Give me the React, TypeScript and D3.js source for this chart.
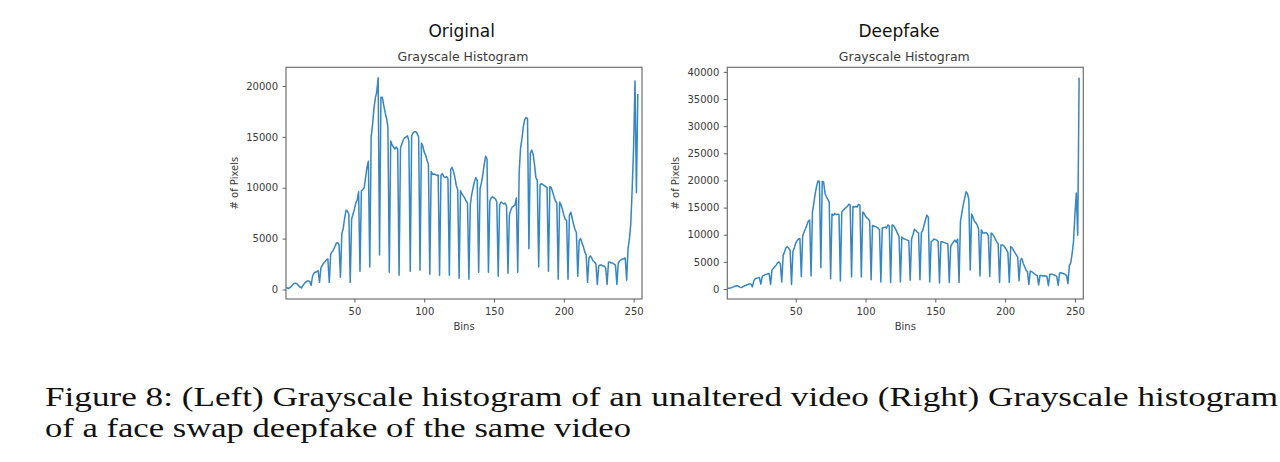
import React, { useRef, useEffect } from 'react';
import * as d3 from 'd3';

// grayscale bins 1..253
const bins = d3.range(1, 254);

const originalCounts = [
  200, 150, 100, 200, 350, 500, 600, 620, 550, 400,
  250, 150, 350, 550, 700, 820, 850, 800, 400, 1300,
  1600, 1700, 1750, 1850, 700, 2100, 2400, 2600, 2750, 2900,
  3000, 700, 3500, 3700, 3900, 4200, 4550, 4600, 4400, 1200,
  5500, 6000, 7000, 7800, 7700, 7400, 700, 6900, 7400, 7900,
  8500, 8800, 9600, 1800, 9700, 9800, 10000, 11000, 12000, 12600,
  2200, 15000, 16200, 17800, 18800, 19400, 20800, 3400, 18900, 18900,
  18100, 17400, 16800, 16000, 1700, 14600, 14200, 14000, 13800, 14000,
  13800, 1400, 13900, 14300, 14700, 14900, 15000, 15100, 14600, 1800,
  15100, 15400, 15500, 15500, 15300, 15000, 1900, 14400, 14100, 13500,
  13200, 12700, 12300, 1500, 11600, 11300, 11350, 11300, 11200, 11250,
  1400, 11200, 11400, 11100, 11000, 11100, 10900, 1400, 11800, 12000,
  11600, 11000, 10200, 9800, 1100, 9700, 9400, 9200, 9000, 8700,
  8500, 1000, 8300, 9300, 10000, 10600, 11000, 10700, 1700, 9900,
  10500, 11300, 12300, 13100, 12800, 1700, 8700, 9000, 9100, 9000,
  8900, 8600, 1300, 8300, 8600, 8500, 8400, 8500, 8200, 1600,
  7300, 7800, 8100, 8200, 8300, 9000, 1700, 11400, 13900, 14800,
  16000, 16700, 16900, 16800, 4000, 13400, 13700, 13300, 12300, 11000,
  10700, 2200, 10300, 10400, 10300, 10200, 10100, 10000, 1800, 10100,
  10000, 9600, 9100, 8700, 8500, 1000, 8600, 8300, 7900, 7300,
  6900, 6800, 1000, 7300, 7600, 7000, 6400, 5900, 5600, 1300,
  4800, 5000, 4600, 4200, 3700, 3400, 700, 3100, 3300, 3100,
  2800, 2700, 2500, 500, 2300, 2400, 2400, 2300, 2300, 2100,
  500, 2700, 2700, 2600, 2600, 2500, 2400, 500, 2600, 2800,
  2900, 3000, 3000, 3100, 900, 4000, 5000, 6500, 10000, 14000,
  20500, 9500, 19200,
];

const deepfakeCounts = [
  100, 150, 200, 250, 350, 450, 550, 600, 500, 350,
  250, 400, 550, 650, 750, 850, 1000, 900, 400, 1500,
  1900, 2000, 2050, 2100, 900, 2300, 2500, 2600, 2700, 2800,
  2850, 850, 3500, 3800, 4100, 4400, 4800, 5000, 4600, 1300,
  6200, 6800, 7600, 7800, 7500, 7100, 850, 6900, 7600, 8500,
  8900, 9200, 9300, 2300, 9800, 10500, 11100, 11800, 12500, 12700,
  2400, 14200, 15800, 17600, 19000, 19900, 19800, 3900, 19800, 19700,
  17600, 17000, 16500, 16000, 1900, 13800, 13600, 13900, 13700, 13800,
  13700, 1500, 14200, 14500, 14800, 15000, 15200, 15600, 15500, 2200,
  15200, 15100, 15200, 15100, 15600, 15400, 2200, 14200, 13900, 13400,
  13100, 12900, 12500, 1700, 11700, 11600, 11500, 11400, 11200, 10900,
  1300, 11300, 11300, 11400, 11200, 11800, 11600, 1200, 11800, 11700,
  11300, 10800, 10200, 9700, 1300, 9600, 9300, 9200, 9100, 9000,
  8900, 1600, 9200, 10000, 11000, 10800, 10500, 10300, 1700, 10400,
  10800, 11800, 12800, 13600, 13200, 1300, 8700, 8900, 9200, 9100,
  9000, 8800, 1100, 8700, 8700, 8600, 8500, 8400, 8300, 1200,
  7800, 8300, 8700, 9000, 8600, 9200, 1200, 12400, 14000, 15500,
  16700, 17900, 17600, 16500, 3500, 13800, 13200, 12500, 12200, 11800,
  11000, 2400, 10900, 10300, 10300, 10400, 10300, 9800, 2300, 10300,
  10100, 9700, 9200, 8700, 8300, 1200, 8100, 8100, 8000, 7600,
  7200, 6700, 1200, 7800, 7600, 7100, 6700, 6300, 5900, 1500,
  5300, 5600, 4700, 4100, 3500, 3200, 850, 3300, 3200, 3000,
  2800, 2600, 2500, 750, 2500, 2500, 2400, 2450, 2400, 2300,
  600, 2700, 2700, 2700, 2600, 2500, 2300, 700, 2900, 3000,
  2900, 2800, 2700, 2500, 1000, 4300, 4800, 6500, 8800, 13700,
  17700, 9900, 38900,
];

const xTicks = [50, 100, 150, 200, 250];
const originalYTicks = [0, 5000, 10000, 15000, 20000];
const deepfakeYTicks = [0, 5000, 10000, 15000, 20000, 25000, 30000, 35000, 40000];

const captionLines = [
  'Figure 8: (Left) Grayscale histogram of an unaltered video (Right) Grayscale histogram',
  'of a face swap deepfake of the same video',
];

const FONT = "'DejaVu Sans', sans-serif";
const W = 356;
const H = 231.7;
const TOP = 67.3;

const Histogram = ({ counts, yTicks, title, left, titleX }) => {
  const gRef = useRef(null);

  useEffect(() => {
    const g = d3.select(gRef.current);
    g.selectAll('*').remove();

    const x = d3.scaleLinear().domain([1, 256]).range([0, W]);
    const [lo, hi] = d3.extent(counts);
    const pad = (hi - lo) * 0.05;
    const y = d3.scaleLinear().domain([lo - pad, hi + pad]).range([H, 0]);

    const line = d3.line()
      .x((d, i) => x(bins[i]))
      .y(d => y(d));

    g.append('path')
      .datum(counts)
      .attr('d', line)
      .attr('fill', 'none')
      .attr('stroke', '#3586c3')
      .attr('stroke-width', 1.5)
      .attr('stroke-linejoin', 'round');

    g.append('rect')
      .attr('width', W)
      .attr('height', H)
      .attr('fill', 'none')
      .attr('stroke', '#707070')
      .attr('stroke-width', 1.2);

    const yAxis = g.append('g')
      .call(d3.axisLeft(y).tickValues(yTicks).tickSize(3.5).tickPadding(4.5).tickFormat(d3.format('d')));
    const xAxis = g.append('g')
      .attr('transform', `translate(0,${H})`)
      .call(d3.axisBottom(x).tickValues(xTicks).tickSize(3.5).tickPadding(5.7));

    [yAxis, xAxis].forEach(a => {
      a.select('.domain').remove();
      a.selectAll('line').attr('stroke', '#606060');
      a.selectAll('text')
        .attr('font-family', FONT)
        .attr('font-size', 10)
        .attr('fill', '#3a3a3a');
    });

    g.append('text')
      .attr('x', W / 2)
      .attr('y', 263)
      .attr('text-anchor', 'middle')
      .attr('font-family', FONT)
      .attr('font-size', 10)
      .attr('fill', '#3a3a3a')
      .text('Bins');

    g.append('text')
      .attr('transform', `translate(-48.5,${H / 2}) rotate(-90)`)
      .attr('text-anchor', 'middle')
      .attr('font-family', FONT)
      .attr('font-size', 10)
      .attr('fill', '#3a3a3a')
      .text('# of Pixels');

    g.append('text')
      .attr('x', W / 2 - 1)
      .attr('y', -6.3)
      .attr('text-anchor', 'middle')
      .attr('font-family', FONT)
      .attr('font-size', 12.5)
      .attr('fill', '#3a3a3a')
      .text('Grayscale Histogram');

    g.append('text')
      .attr('x', titleX - left)
      .attr('y', -30.5)
      .attr('text-anchor', 'middle')
      .attr('font-family', FONT)
      .attr('font-size', 17)
      .attr('fill', '#111')
      .text(title);
  }, [counts, yTicks, title, left, titleX]);

  return <g ref={gRef} transform={`translate(${left},${TOP})`} />;
};

const App = () => (
  <svg
    width={1280}
    height={462}
    style={{ position: 'absolute', left: 0, top: 0, background: '#fff' }}
  >
    <Histogram counts={originalCounts} yTicks={originalYTicks} title="Original" left={286} titleX={461.7} />
    <Histogram counts={deepfakeCounts} yTicks={deepfakeYTicks} title="Deepfake" left={727.3} titleX={899} />
    <text x={45} y={405.7} fontFamily="'Liberation Serif', serif" fontSize={26.5} fill="#111"
      textLength={1233} lengthAdjust="spacingAndGlyphs">{captionLines[0]}</text>
    <text x={45} y={436.7} fontFamily="'Liberation Serif', serif" fontSize={26.5} fill="#111"
      textLength={586} lengthAdjust="spacingAndGlyphs">{captionLines[1]}</text>
  </svg>
);

export default App;
